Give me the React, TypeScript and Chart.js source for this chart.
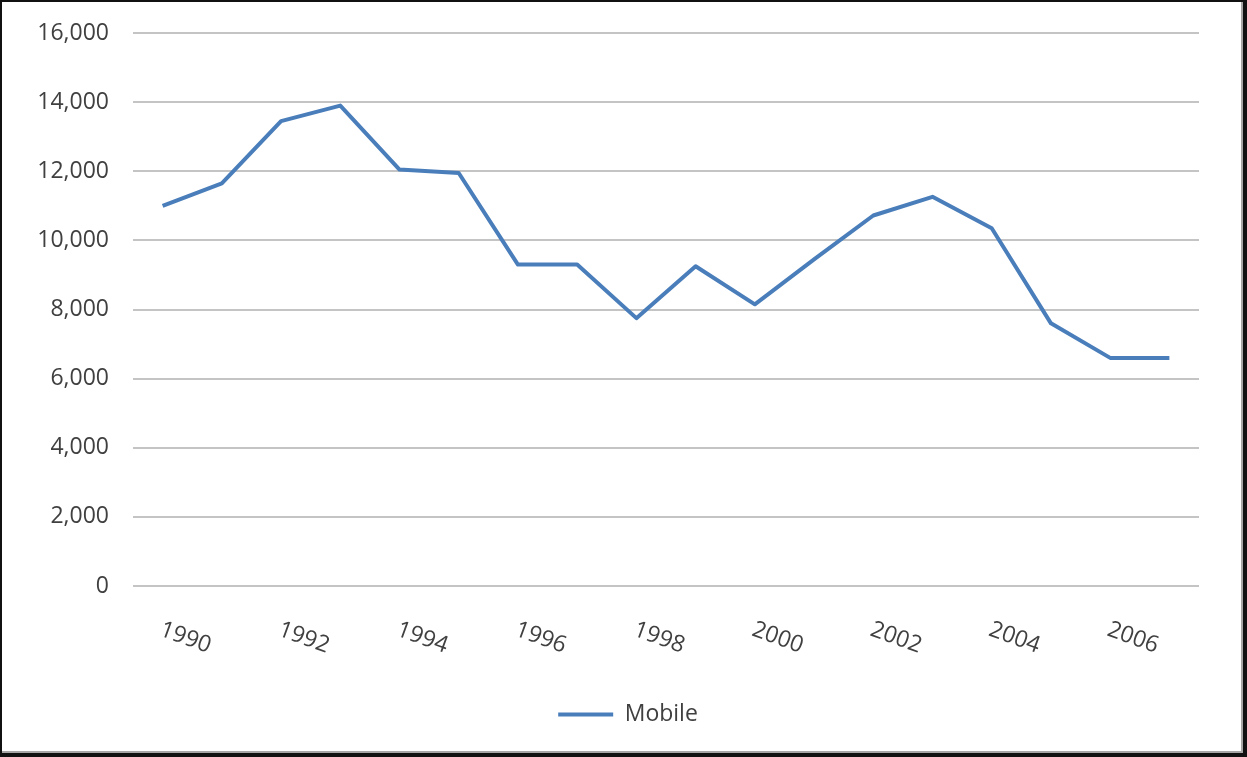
import React, { useEffect, useRef } from 'react';
import { Chart, registerables } from 'chart.js';

Chart.register(...registerables);

const years = ['1990', '1991', '1992', '1993', '1994', '1995', '1996', '1997', '1998', '1999', '2000', '2001', '2002', '2003', '2004', '2005', '2006', '2007'];
const mobile = [11000, 11650, 13450, 13900, 12050, 11950, 9300, 9300, 7750, 9250, 8150, 9450, 10720, 11260, 10350, 7600, 6600, 6600];
const shownYearLabels = ['1990', '1992', '1994', '1996', '1998', '2000', '2002', '2004', '2006'];
const seriesName = 'Mobile';
const yMin = 0;
const yMax = 16000;
const yStep = 2000;

const LINE_COLOR = '#4a7ebb';
const TEXT_COLOR = '#404040';
const FONT_FAMILY = '"Open Sans", "Noto Sans", sans-serif';
const FONT_SIZE = 23;

const xLabelPlugin = {
  id: 'rotatedXLabels',
  afterDraw(chart: any) {
    const { ctx, chartArea, scales } = chart;
    const xs = scales.x;
    ctx.save();
    ctx.font = `${FONT_SIZE}px ${FONT_FAMILY}`;
    ctx.fillStyle = TEXT_COLOR;
    ctx.textAlign = 'left';
    ctx.textBaseline = 'top';
    years.forEach((lab, i) => {
      if (!shownYearLabels.includes(lab)) return;
      const px = xs.getPixelForValue(i);
      ctx.save();
      ctx.translate(px + 2, chartArea.bottom + 32);
      ctx.rotate((20 * Math.PI) / 180);
      ctx.fillText(lab, 0, 0);
      ctx.restore();
    });
    ctx.restore();
  },
};

function zeroPad(scale: any) {
  scale.paddingTop = 0;
  scale.paddingBottom = 0;
  scale.paddingLeft = 0;
  scale.paddingRight = 0;
}

export default function App() {
  const canvasRef = useRef<HTMLCanvasElement | null>(null);

  useEffect(() => {
    if (!canvasRef.current) return;
    const chart = new Chart(canvasRef.current, {
      type: 'line',
      data: {
        labels: years,
        datasets: [
          {
            label: seriesName,
            data: mobile,
            borderColor: LINE_COLOR,
            backgroundColor: LINE_COLOR,
            borderWidth: 4,
            pointRadius: 0,
            tension: 0,
            borderJoinStyle: 'round',
            borderCapStyle: 'butt',
          },
        ],
      },
      options: {
        animation: false,
        responsive: true,
        maintainAspectRatio: false,
        layout: { padding: { left: 31, right: 20, top: 31, bottom: 17 } },
        scales: {
          x: {
            offset: true,
            grid: { display: false, drawTicks: false },
            border: { display: false },
            ticks: { display: false },
            afterFit(scale: any) {
              scale.height = 107;
              zeroPad(scale);
            },
          },
          y: {
            min: yMin,
            max: yMax,
            ticks: {
              stepSize: yStep,
              padding: 24,
              color: TEXT_COLOR,
              font: { family: FONT_FAMILY, size: FONT_SIZE },
              callback: (v: any) => Number(v).toLocaleString('en-US'),
            },
            grid: { color: '#c4c4c4', lineWidth: 2, drawTicks: false },
            border: { display: false },
            afterFit(scale: any) {
              scale.width = 100;
              zeroPad(scale);
            },
          },
          ySpacer: {
            position: 'right',
            display: true,
            ticks: { display: false },
            grid: { display: false, drawTicks: false },
            border: { display: false },
            afterFit(scale: any) {
              scale.width = 24;
              zeroPad(scale);
            },
          },
        },
        plugins: {
          tooltip: { enabled: false },
          legend: {
            position: 'bottom',
            labels: {
              color: TEXT_COLOR,
              font: { family: FONT_FAMILY, size: FONT_SIZE },
              boxWidth: 55,
              boxHeight: 4,
              padding: 10,
              generateLabels: () => [
                {
                  text: seriesName,
                  fillStyle: LINE_COLOR,
                  strokeStyle: LINE_COLOR,
                  lineWidth: 0,
                  hidden: false,
                  datasetIndex: 0,
                  fontColor: TEXT_COLOR,
                },
              ],
            },
          },
        },
      },
      plugins: [xLabelPlugin],
    } as any);
    return () => chart.destroy();
  }, []);

  return (
    <div
      style={{
        position: 'absolute',
        left: 0,
        top: 0,
        width: 1247,
        height: 757,
        boxSizing: 'border-box',
        background: '#fff',
        borderTop: '2px solid #111',
        borderLeft: '2px solid #111',
        borderRight: '4px solid #111',
        borderBottom: '4px solid #111',
        boxShadow: 'inset -2px -2px 0 #a6a6a6',
      }}
    >
      <div style={{ position: 'relative', width: 1241, height: 751 }}>
        <canvas ref={canvasRef} />
      </div>
    </div>
  );
}
